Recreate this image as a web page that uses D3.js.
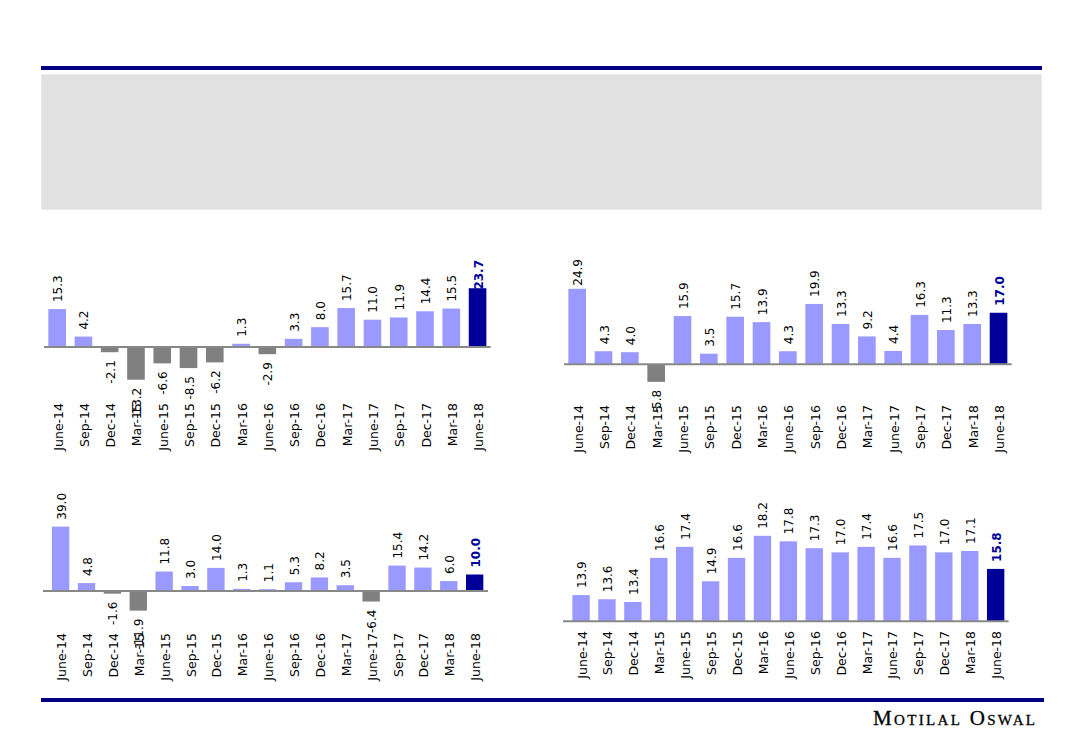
<!DOCTYPE html>
<html>
<head>
<meta charset="utf-8">
<script src="https://cdn.jsdelivr.net/npm/d3@7"></script>
<style>
  body { margin: 0; background: #fff; }
  text { font-family: "DejaVu Sans", Verdana, sans-serif; }
</style>
</head>
<body>
<svg width="1083" height="750"></svg>
<script>
// Quarter labels shared by all four charts
const quarters = ['June-14', 'Sep-14', 'Dec-14', 'Mar-15', 'June-15', 'Sep-15', 'Dec-15', 'Mar-16',
  'June-16', 'Sep-16', 'Dec-16', 'Mar-17', 'June-17', 'Sep-17', 'Dec-17', 'Mar-18', 'June-18']

// Growth (%)
const topLeft = [15.3, 4.2, -2.1, -13.2, -6.6, -8.5, -6.2, 1.3, -2.9, 3.3, 8.0, 15.7, 11.0, 11.9, 14.4, 15.5, 23.7]
const topRight = [24.9, 4.3, 4.0, -5.8, 15.9, 3.5, 15.7, 13.9, 4.3, 19.9, 13.3, 9.2, 4.4, 16.3, 11.3, 13.3, 17.0]
const bottomLeft = [39.0, 4.8, -1.6, -11.9, 11.8, 3.0, 14.0, 1.3, 1.1, 5.3, 8.2, 3.5, -6.4, 15.4, 14.2, 6.0, 10.0]
const bottomRight = [13.9, 13.6, 13.4, 16.6, 17.4, 14.9, 16.6, 18.2, 17.8, 17.3, 17.0, 17.4, 16.6, 17.5, 17.0, 17.1, 15.8]

// Where each panel sits on the page
const panels = [
  { values: topLeft, band: [44, 490.7], line: [44, 490.7], yDomain: [-15, 25], yRange: [384.2, 285], labelTop: 403, chartTop: 260 },
  { values: topRight, band: [564, 1011.7], line: [564, 1011.7], yDomain: [-10, 25], yRange: [394.6, 288.5], labelTop: 405, chartTop: 259 },
  { values: bottomLeft, band: [47.7, 487.6], line: [43, 488], yDomain: [-20, 40], yRange: [624, 525], labelTop: 633, chartTop: 492 },
  { values: bottomRight, band: [568.1, 1008.6], line: [563, 1008.6], yDomain: [12, 20], yRange: [621.3, 511], labelTop: 631, chartTop: 492 },
]

const navy = '#000080'
const svg = d3.select('svg')

// Page frame: header rule, empty grey title box, footer rule and brand
svg.append('rect').attr('x', 41).attr('y', 66).attr('width', 1001).attr('height', 4).attr('fill', navy)
svg.append('rect').attr('x', 41.5).attr('y', 74.5).attr('width', 1000).attr('height', 135)
  .attr('fill', '#e1e1e1').attr('stroke', '#ececec')
svg.append('rect').attr('x', 41).attr('y', 698).attr('width', 1003).attr('height', 4).attr('fill', navy)
svg.append('text')
  .attr('x', 873).attr('y', 725)
  .attr('textLength', 162).attr('lengthAdjust', 'spacing')
  .style('font-family', '"Liberation Serif", "Times New Roman", serif')
  .style('font-variant', 'small-caps')
  .style('font-size', '21px')
  .style('stroke', '#000').style('stroke-width', 0.3)
  .attr('fill', '#000')
  .text('Motilal Oswal')

const barColor = (v, i, n) => (i === n - 1 ? '#000099' : v < 0 ? '#808080' : '#9999ff')

panels.forEach((p) => {
  const n = p.values.length
  const x = d3.scaleBand().domain(quarters).range(p.band).paddingInner(0.33).paddingOuter(0.165)
  const y = d3.scaleLinear().domain(p.yDomain).range(p.yRange)
  const base = y(Math.max(0, p.yDomain[0]))
  const g = svg.append('g')

  g.selectAll('rect')
    .data(p.values)
    .enter()
    .append('rect')
    .attr('x', (_, i) => x(quarters[i]))
    .attr('width', x.bandwidth())
    .attr('y', (d) => Math.min(y(d), base))
    .attr('height', (d) => Math.abs(y(d) - base))
    .attr('fill', (d, i) => barColor(d, i, n))

  // zero line
  g.append('line')
    .attr('x1', p.line[0]).attr('x2', p.line[1])
    .attr('y1', base).attr('y2', base)
    .attr('stroke', '#888').attr('stroke-width', 2)

  // value labels, rotated, outside the bar end
  p.values.forEach((v, i) => {
    const cx = x(quarters[i]) + x.bandwidth() / 2 + 1
    const t = g.append('text')
      .attr('dominant-baseline', 'central')
      .style('font-size', '12px')
      .style('font-weight', i === n - 1 ? 'bold' : 'normal')
      .attr('fill', i === n - 1 ? '#000099' : '#000')
      .text(v.toFixed(1))
    if (v >= 0) {
      const len = t.node().getComputedTextLength()
      // keep the label inside the chart area, as the original does
      const start = Math.max(y(v) - 7, p.chartTop + len)
      t.attr('text-anchor', 'start').attr('transform', `translate(${cx},${start}) rotate(-90)`)
    } else {
      t.attr('text-anchor', 'end').attr('transform', `translate(${cx},${y(v) + 8}) rotate(-90)`)
    }
  })

  // category labels sit at the bottom of the plot area
  g.selectAll('.cat')
    .data(quarters)
    .enter()
    .append('text')
    .attr('class', 'cat')
    .attr('text-anchor', 'end')
    .attr('dominant-baseline', 'central')
    .style('font-size', '12.5px')
    .attr('fill', '#000')
    .attr('transform', (d) => `translate(${x(d) + x.bandwidth() / 2 + 1},${p.labelTop}) rotate(-90)`)
    .text((d) => d)
})
</script>
</body>
</html>
